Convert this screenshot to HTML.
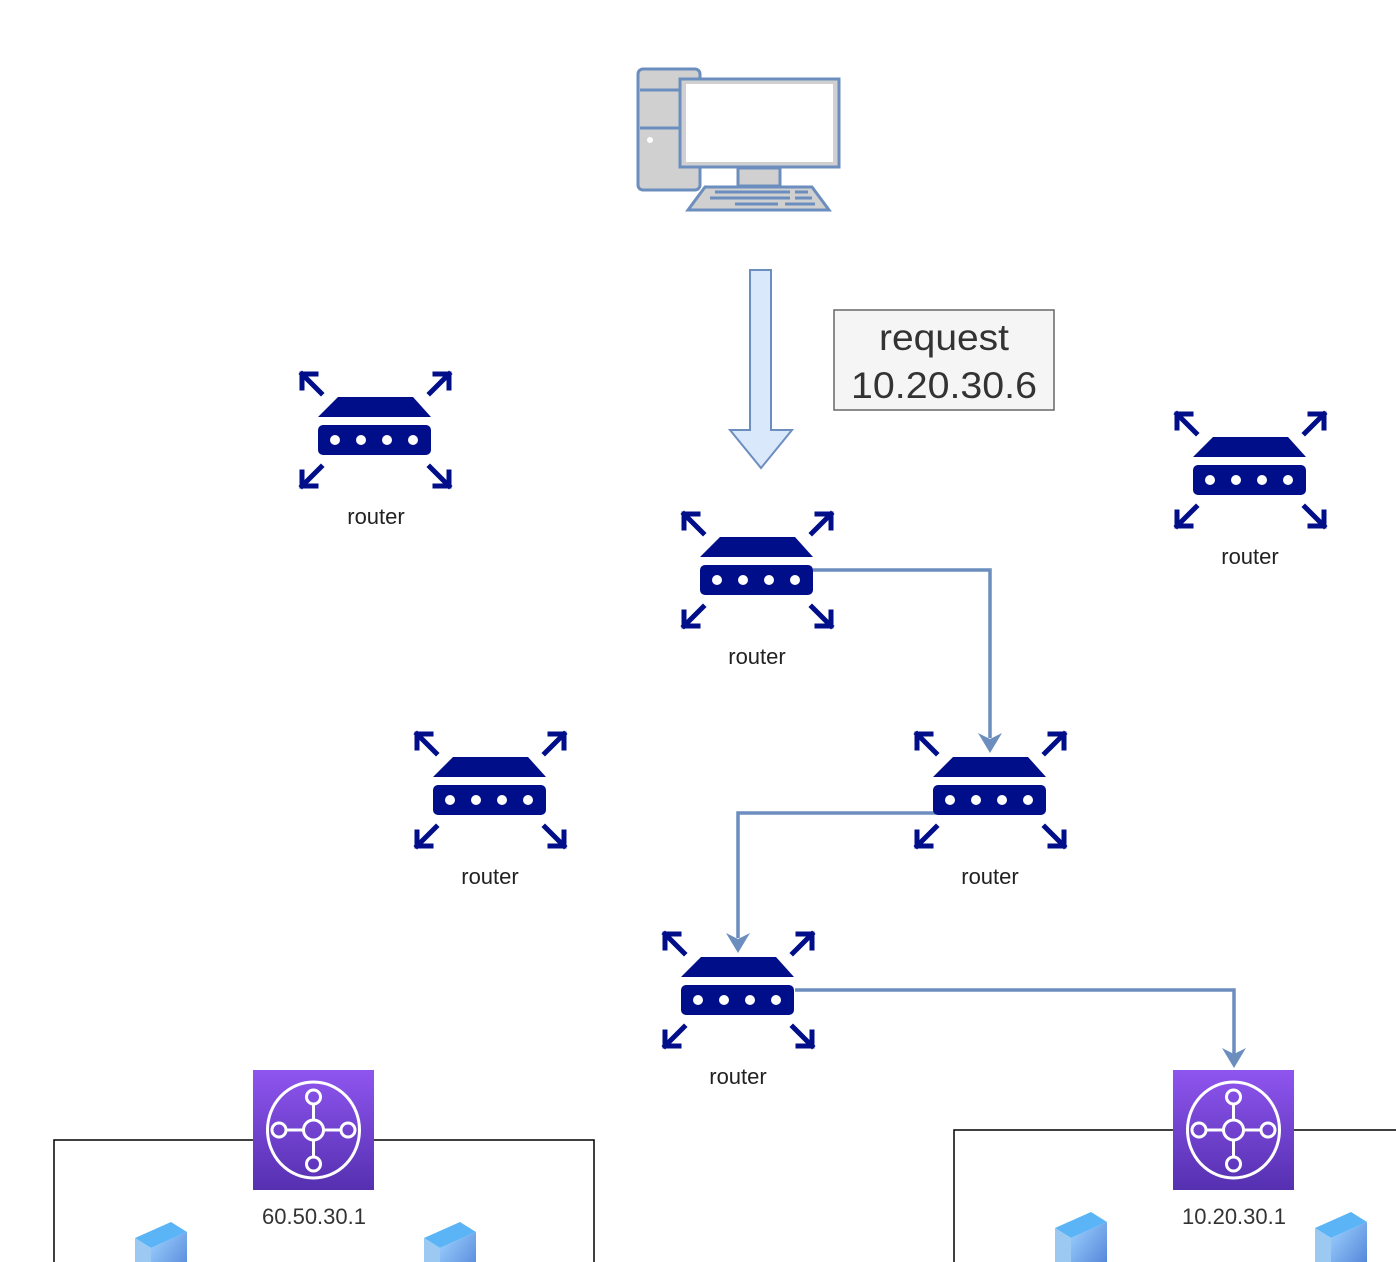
<!DOCTYPE html>
<html><head><meta charset="utf-8"><style>
html,body{margin:0;padding:0;background:#fff;width:1396px;height:1262px;overflow:hidden}
svg{display:block}
text{font-family:"Liberation Sans",sans-serif}
</style></head><body>
<svg width="1396" height="1262" viewBox="0 0 1396 1262" xmlns="http://www.w3.org/2000/svg">
<defs>
<g id="r">
 <g stroke="#000e8a" stroke-width="5" fill="none" stroke-linecap="square">
  <path d="M23 23L4 4M4 18V4H18"/>
  <path d="M132 23L151 4M137 4H151V18"/>
  <path d="M23 97L4 116M4 102V116H18"/>
  <path d="M132 97L151 116M151 102V116H137"/>
 </g>
 <path d="M20 47L40 27H115L133 47Z" fill="#000e8a"/>
 <rect x="20" y="55" width="113" height="30" rx="5" fill="#000e8a"/>
 <g fill="#fff"><circle cx="37" cy="70" r="5"/><circle cx="63" cy="70" r="5"/><circle cx="89" cy="70" r="5"/><circle cx="115" cy="70" r="5"/></g>
</g>
<linearGradient id="pg" x1="0" y1="0" x2="0" y2="1"><stop offset="0" stop-color="#8f55ef"/><stop offset="1" stop-color="#5530b0"/></linearGradient>
<g id="aws">
 <rect width="121" height="120" fill="url(#pg)"/>
 <g stroke="#fff" stroke-width="3" fill="none">
  <ellipse cx="60.5" cy="60" rx="46" ry="48"/>
  <circle cx="60.5" cy="60" r="10"/>
  <circle cx="60.5" cy="27" r="7"/><circle cx="60.5" cy="94" r="7"/>
  <circle cx="26" cy="60" r="7"/><circle cx="95" cy="60" r="7"/>
  <path d="M60.5 34V50M60.5 70V87M33 60H50.5M70.5 60H88"/>
 </g>
</g>
<linearGradient id="sg" x1="0" y1="0" x2="1" y2="1"><stop offset="0" stop-color="#9fd3ff"/><stop offset="1" stop-color="#4d7fd6"/></linearGradient>
<g id="srv">
 <path d="M0 16L36 0L52 10L16 26Z" fill="#5ab4f5"/>
 <path d="M0 16L16 26V60H0Z" fill="#9cc9f2"/>
 <path d="M16 26L52 10V60H16Z" fill="url(#sg)"/>
</g>
</defs>

<rect x="638" y="69" width="62" height="121" rx="5" fill="#d0d0d0" stroke="#6c8ebf" stroke-width="3"/>
<path d="M640 90H698M640 128H698" stroke="#6c8ebf" stroke-width="3"/>
<circle cx="650" cy="140" r="3" fill="#fff"/>
<rect x="680" y="79" width="159" height="88" fill="#d0d0d0" stroke="#6c8ebf" stroke-width="3"/>
<rect x="686" y="84" width="147" height="78" fill="#fff"/>
<rect x="738" y="168" width="42" height="18" fill="#d0d0d0" stroke="#6c8ebf" stroke-width="3"/>
<path d="M705 187H812L829 210H688Z" fill="#d0d0d0" stroke="#6c8ebf" stroke-width="3"/>
<path d="M715 192H790M795 192H808M710 198H790M795 198H812M735 204H778M785 204H815" stroke="#6c8ebf" stroke-width="3"/>

<path d="M750 270H771V430H792L761 468L730 430H750Z" fill="#dae8fc" stroke="#6c8ebf" stroke-width="2"/>

<rect x="834" y="310" width="220" height="100" fill="#f5f5f5" stroke="#666" stroke-width="1.5"/>
<text x="944" y="350" font-size="37" fill="#333" text-anchor="middle" textLength="130" lengthAdjust="spacingAndGlyphs">request</text>
<text x="944" y="398" font-size="37" fill="#333" text-anchor="middle" textLength="186" lengthAdjust="spacingAndGlyphs">10.20.30.6</text>

<g stroke="#6c8ebf" stroke-width="3.5" fill="none">
 <path d="M813 570H990V738"/>
 <path d="M990 813H738V938"/>
 <path d="M795 990H1234V1055"/>
</g>
<g fill="#6c8ebf">
 <path d="M978 733L990 753L1002 733L990 739Z"/>
 <path d="M726 933L738 953L750 933L738 939Z"/>
 <path d="M1222 1048L1234 1068L1246 1048L1234 1054Z"/>
</g>

<use href="#r" x="298" y="370"/>
<use href="#r" x="680" y="510"/>
<use href="#r" x="1173" y="410"/>
<use href="#r" x="413" y="730"/>
<use href="#r" x="913" y="730"/>
<use href="#r" x="661" y="930"/>
<g font-size="22" fill="#222" text-anchor="middle">
<text x="376" y="524">router</text>
<text x="757" y="664">router</text>
<text x="1250" y="564">router</text>
<text x="490" y="884">router</text>
<text x="990" y="884">router</text>
<text x="738" y="1084">router</text>
</g>

<rect x="54" y="1140" width="540" height="140" fill="none" stroke="#000" stroke-width="1.5"/>
<rect x="954" y="1130" width="460" height="150" fill="none" stroke="#000" stroke-width="1.5"/>
<use href="#aws" x="253" y="1070"/>
<use href="#aws" x="1173" y="1070"/>
<g font-size="22" fill="#333" text-anchor="middle">
<text x="314" y="1224">60.50.30.1</text>
<text x="1234" y="1224">10.20.30.1</text>
</g>
<use href="#srv" x="135" y="1222"/>
<use href="#srv" x="424" y="1222"/>
<use href="#srv" x="1055" y="1212"/>
<use href="#srv" x="1315" y="1212"/>
</svg>
</body></html>
